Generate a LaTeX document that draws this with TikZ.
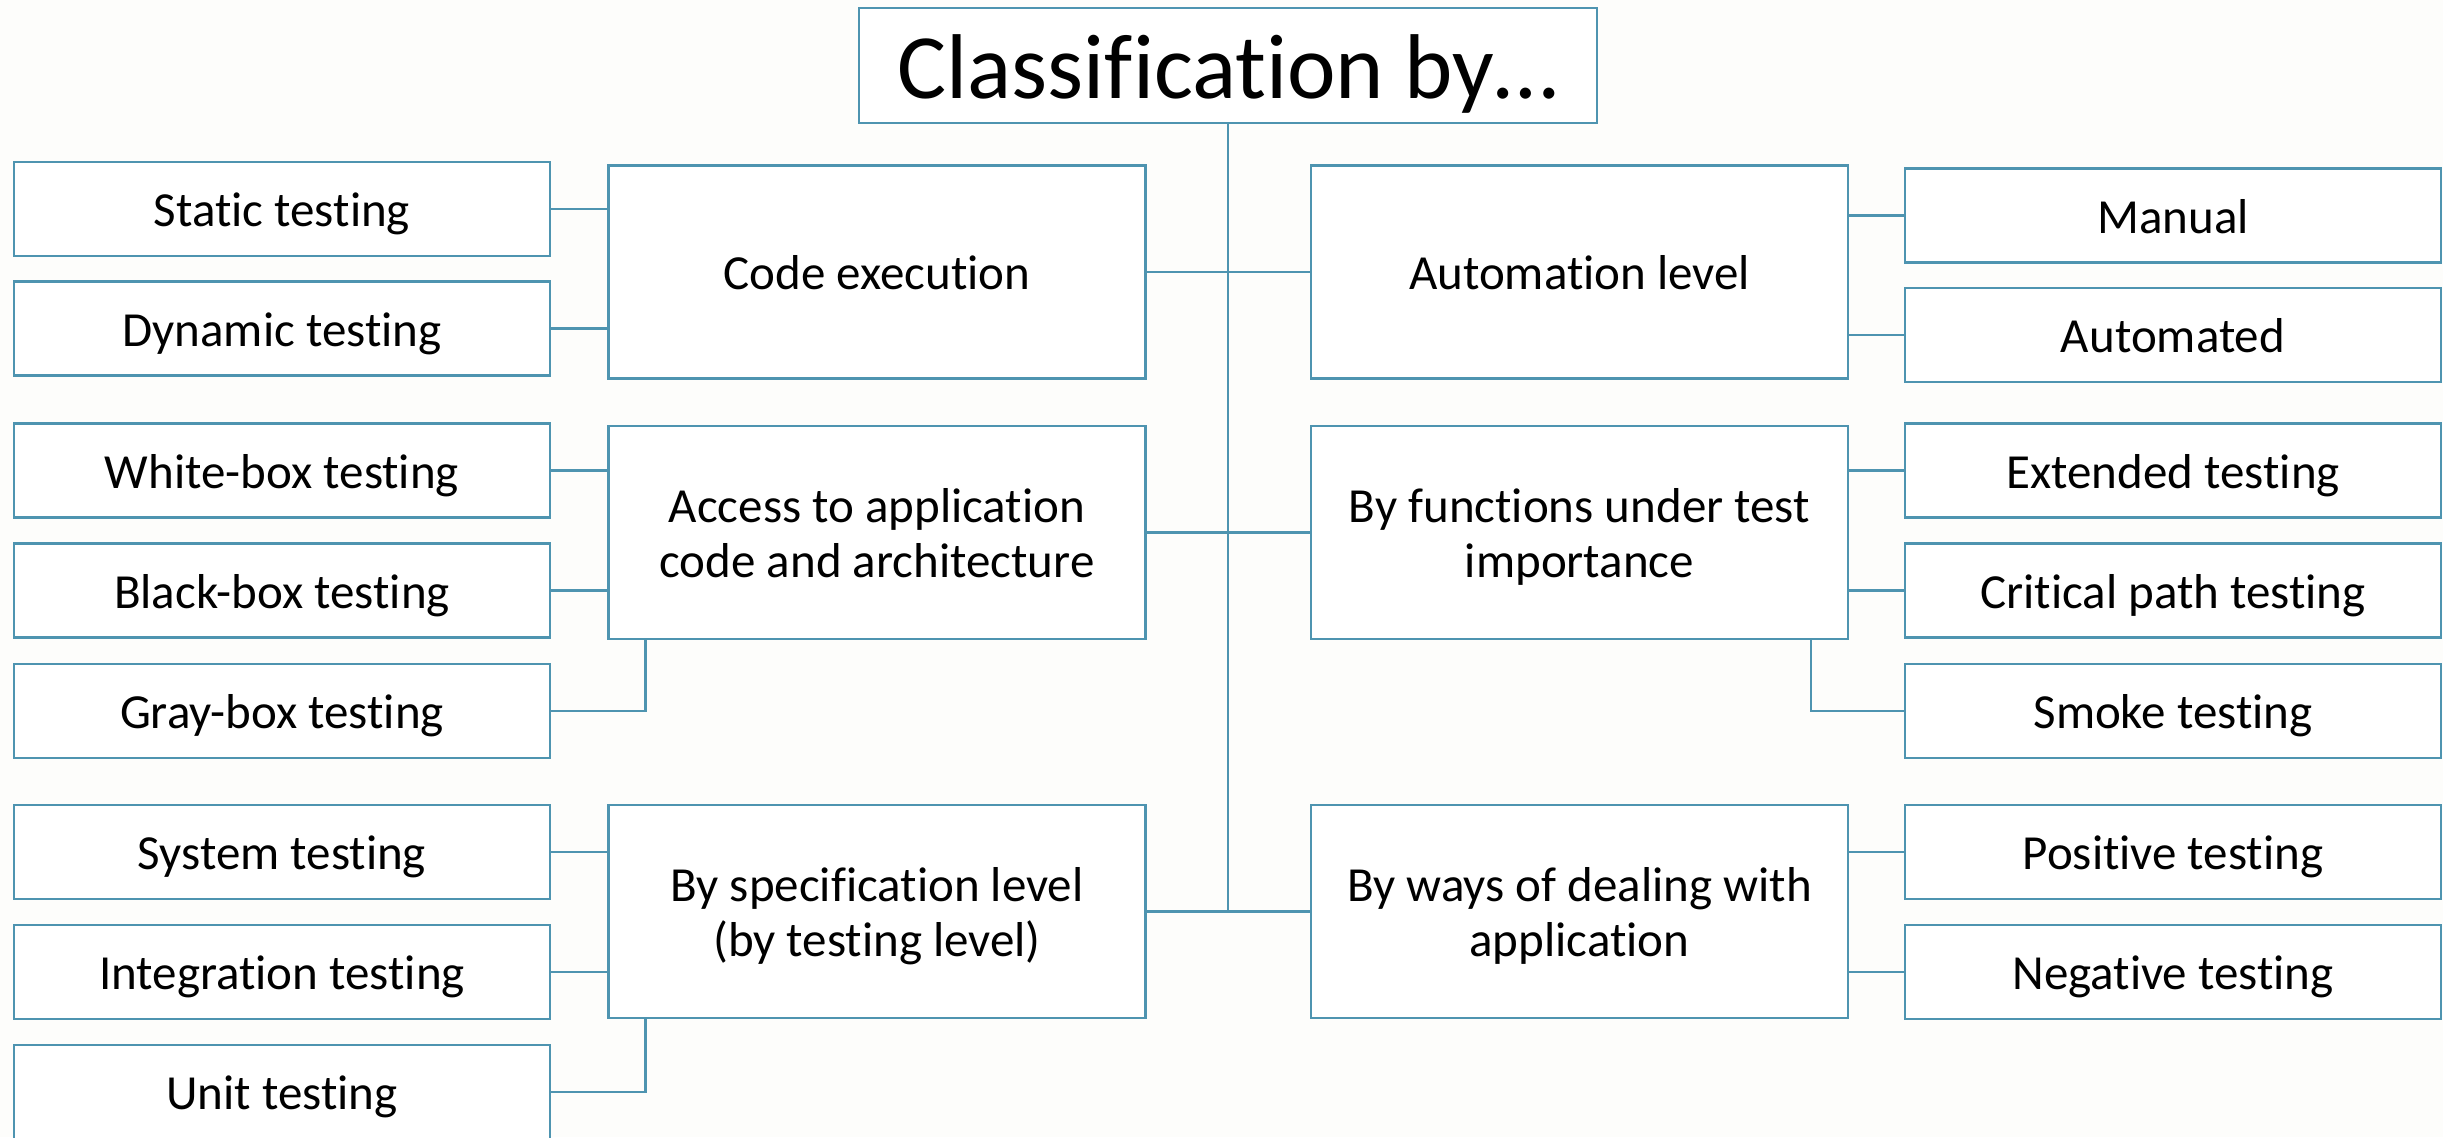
\documentclass[tikz,border=0pt]{standalone}
\usepackage{fontspec}
\setmainfont{Carlito}[Ligatures=NoCommon]
\usetikzlibrary{calc}
\definecolor{frame}{RGB}{78,148,176}
\definecolor{paper}{RGB}{253,253,251}
\tikzset{
  box/.style={draw=frame, line width=1.2pt, fill=white, inner sep=0pt,
    font=\fontsize{24.5pt}{27.5pt}\selectfont, text=black, align=center,
    text height=17.5pt, text depth=0pt},
  leafbox/.style={box, minimum width=268pt, minimum height=47pt},
  groupbox/.style={box, minimum width=268.5pt, minimum height=106.5pt},
  twoline/.style={text height=45pt},
  titlebox/.style={box, minimum width=369pt, minimum height=57.5pt,
    font=\fontsize{46pt}{50pt}\selectfont, text height=33pt},
  link/.style={draw=frame, line width=1.2pt}
}
\begin{document}
\begin{tikzpicture}[x=0.5pt, y=-0.5pt]
  \useasboundingbox (0,0) rectangle (2443,1137);
  \fill[paper] (0,0) rectangle (2443,1137);
  \clip (0,0) rectangle (2443,1137);

  % heading
  \node[titlebox] (title) at (1228,65.5) {Classification by…};

  % left groups
  \node[groupbox] (code)   at (877,272)   {Code execution};
  \node[groupbox, twoline] (access) at (877,532.5) {Access to application\\code and architecture};
  \node[groupbox, twoline] (spec)   at (877,911.5) {By specification level\\(by testing level)};

  \node[leafbox] (static)  at (282,209)   {Static testing};
  \node[leafbox] (dynamic) at (282,328.5) {Dynamic testing};
  \node[leafbox] (white)   at (282,470.5) {White-box testing};
  \node[leafbox] (black)   at (282,590.5) {Black-box testing};
  \node[leafbox] (gray)    at (282,711)   {Gray-box testing};
  \node[leafbox] (system)  at (282,852)   {System testing};
  \node[leafbox] (integ)   at (282,972)   {Integration testing};
  \node[leafbox] (unit)    at (282,1092)  {Unit testing};

  % right groups
  \node[groupbox] (auto) at (1579.5,272) {Automation level};
  \node[groupbox, twoline] (func) at (1579.5,532.5) {By functions under test\\importance};
  \node[groupbox, twoline] (ways) at (1579.5,911.5) {By ways of dealing with\\application};

  \node[leafbox] (manual)    at (2173,215.5) {Manual};
  \node[leafbox] (automated) at (2173,335)   {Automated};
  \node[leafbox] (ext)       at (2173,470.5) {Extended testing};
  \node[leafbox] (crit)      at (2173,590.5) {Critical path testing};
  \node[leafbox] (smoke)     at (2173,711)   {Smoke testing};
  \node[leafbox] (pos)       at (2173,852)   {Positive testing};
  \node[leafbox] (neg)       at (2173,972)   {Negative testing};

  % trunk
  \draw[link] (title.south) -- (title.south |- spec.east);
  \draw[link] (code.east) -- (auto.west);
  \draw[link] (access.east) -- (func.west);
  \draw[link] (spec.east) -- (ways.west);

  % left branches
  \draw[link] (static.east) -- (static.east -| code.west);
  \draw[link] (dynamic.east) -- (dynamic.east -| code.west);
  \draw[link] (white.east) -- (white.east -| access.west);
  \draw[link] (black.east) -- (black.east -| access.west);
  \draw[link] (gray.east) -| ([xshift=19pt]access.south west);
  \draw[link] (system.east) -- (system.east -| spec.west);
  \draw[link] (integ.east) -- (integ.east -| spec.west);
  \draw[link] (unit.east) -| ([xshift=19pt]spec.south west);

  % right branches
  \draw[link] (manual.west) -- (manual.west -| auto.east);
  \draw[link] (automated.west) -- (automated.west -| auto.east);
  \draw[link] (ext.west) -- (ext.west -| func.east);
  \draw[link] (crit.west) -- (crit.west -| func.east);
  \draw[link] (smoke.west) -| ([xshift=-19pt]func.south east);
  \draw[link] (pos.west) -- (pos.west -| ways.east);
  \draw[link] (neg.west) -- (neg.west -| ways.east);
\end{tikzpicture}
\end{document}
